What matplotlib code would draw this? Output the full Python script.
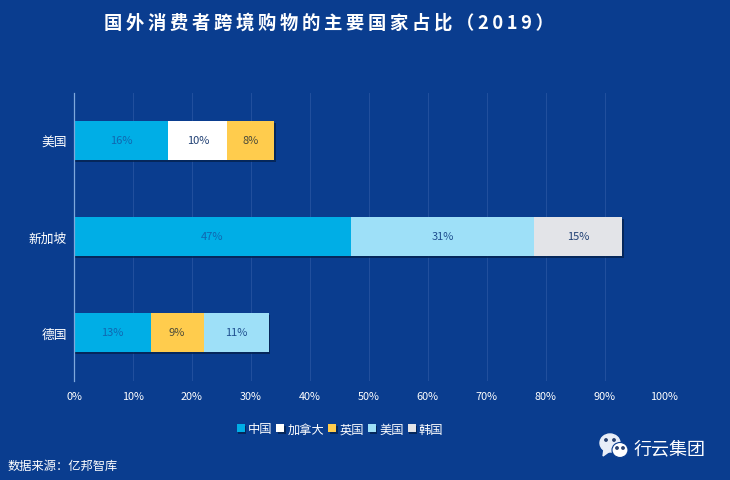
#!/usr/bin/env python3
import numpy as np
import matplotlib
matplotlib.use("Agg")
import matplotlib.pyplot as plt
import matplotlib.patheffects as pe
from matplotlib.patches import Ellipse, Polygon

plt.rcParams['font.family'] = ['Noto Sans CJK SC', 'DejaVu Sans']

countries = ["德国", "新加坡", "美国"]
series_names = ["中国", "加拿大", "英国", "美国", "韩国"]
china = [13, 47, 16]
canada = [0, 0, 10]
uk = [9, 0, 8]
usa = [11, 31, 0]
korea = [0, 15, 0]
series_values = [china, canada, uk, usa, korea]
series_colors = ["#00AEE6", "#FFFFFF", "#FFCC4D", "#9EE0F8", "#E3E4E8"]
label_colors = ["#1067B0", "#1F3F73", "#4A4A3A", "#1F4F8F", "#1F3F73"]
x_ticks = list(range(0, 101, 10))
BG = "#0A3D8F"

W, H = 730, 481
fig = plt.figure(figsize=(W / 100, H / 100), dpi=100, facecolor=BG)
ax = fig.add_axes([74 / W, 1 - 381.5 / H, 589.5 / W, 288 / H], facecolor=BG)

y = np.arange(len(countries))
left = np.zeros(len(countries))
shadow = [pe.SimplePatchShadow(offset=(1, -1.5), shadow_rgbFace="#04224F", alpha=0.8), pe.Normal()]
for vals, name, col, lab_col in zip(series_values, series_names, series_colors, label_colors):
    vals = np.array(vals)
    bars = ax.barh(y, vals, left=left, height=0.405, color=col, label=name, zorder=3)
    for b in bars:
        b.set_path_effects(shadow)
    for i, v in enumerate(vals):
        if v > 0:
            ax.text(left[i] + v / 2, y[i], f"{v}%", ha="center", va="center",
                    fontsize=8, color=lab_col, zorder=5)
    left = left + vals

ax.set_xlim(0, 100)
ax.set_ylim(-0.5, 2.5)
ax.set_xticks(x_ticks)
ax.set_xticklabels([f"{t}%" for t in x_ticks], fontsize=7.8, color="white")
ax.set_yticks(y)
ax.set_yticklabels(countries, fontsize=9.2, color="white")
ax.tick_params(axis="both", length=0)
ax.tick_params(axis="x", pad=7.5)
ax.tick_params(axis="y", pad=5)
ax.grid(axis="x", color="#22509E", linewidth=0.7, zorder=0)
ax.set_axisbelow(True)
for s in ["top", "right", "bottom"]:
    ax.spines[s].set_visible(False)
ax.spines["left"].set_color("#7FA8DC")
ax.spines["left"].set_linewidth(0.9)
ax.spines["left"].set_zorder(6)

leg = fig.legend(loc="center", bbox_to_anchor=(340 / W, 1 - 430 / H), ncol=5, frameon=False,
                 fontsize=8.8, handlelength=0.65, handleheight=0.65, handletextpad=0.25,
                 columnspacing=0.35, labelcolor="white")

# title with spaced out characters
title = "\u2009".join("国外消费者跨境购物的主要国家占比（2019）")
fig.text(329 / W, 1 - 23 / H, title, ha="center", va="center", fontsize=13.2,
         fontweight="bold", color="white")

fig.text(8 / W, 1 - 466 / H, "数据来源：亿邦智库", ha="left", va="center", fontsize=8.8, color="white")

# wechat badge
bx = fig.add_axes([0, 0, 1, 1], facecolor="none")
bx.set_xlim(0, W)
bx.set_ylim(H, 0)
bx.axis("off")
bx.add_patch(Ellipse((610, 444), 20, 18, color="#E8EEF8"))
bx.add_patch(Polygon([[604, 450], [603, 457], [610, 452]], color="#E8EEF8"))
bx.add_patch(Ellipse((620, 451), 16, 15, color="white", ec=BG, lw=0.8))
for px, py in [(606, 441), (614, 441), (617, 449), (623, 449)]:
    bx.add_patch(Ellipse((px, py), 2.4, 2.4, color="#27406F"))
fig.text(634 / W, 1 - 449 / H, "行云集团", ha="left", va="center", fontsize=13, color="white")

fig.savefig("out.png", dpi=100, facecolor=BG)
